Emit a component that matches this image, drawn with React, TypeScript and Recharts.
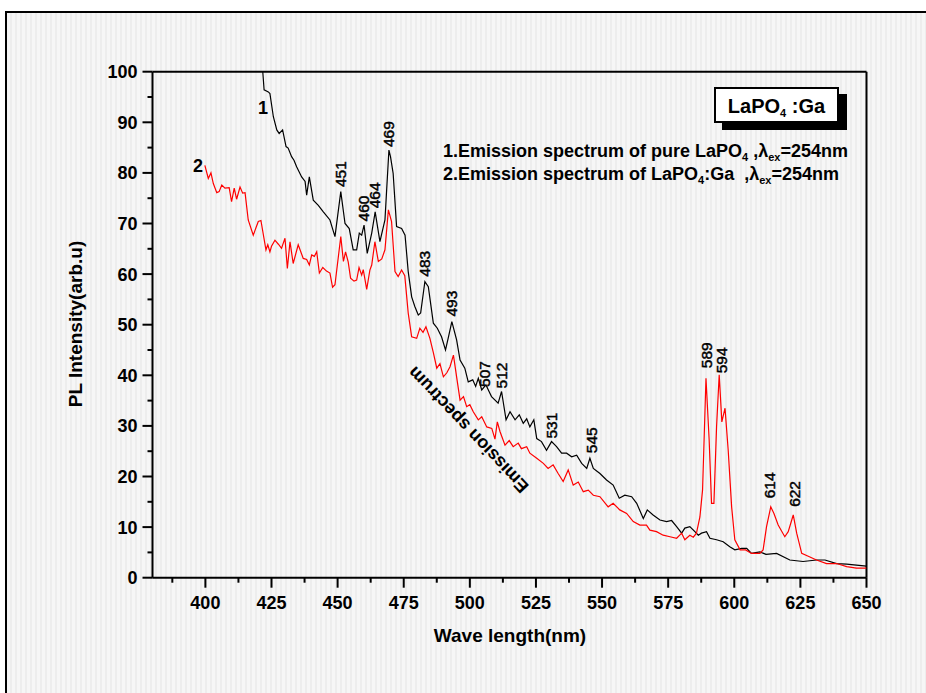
import React from 'react';
import { LineChart, Line, XAxis, YAxis, ReferenceLine, ReferenceDot } from 'recharts';

// [wavelength nm, PL intensity]
const pureSpectrum: [number, number][] = [
  [421.7, 100], [422.2, 96.4], [423.8, 96.0], [424.4, 95.7], [425.7, 91.1], [427.0, 88.5], [427.9, 87.8],
  [429.2, 88.5], [430.5, 85.2], [431.3, 84.9], [432.6, 83.2], [433.5, 82.5], [434.5, 81.2], [436.4, 79.2],
  [437.7, 78.3], [438.3, 75.6], [439.3, 79.2], [440.8, 74.6], [442.7, 73.6], [444.6, 72.3], [447.1, 70.7],
  [449.0, 67.4], [451.2, 76.3], [452.8, 70.0], [454.4, 69.0], [455.9, 64.8], [457.2, 64.8], [458.2, 68.1],
  [459.1, 67.7], [460.0, 69.7], [461.2, 64.1], [462.9, 68.1], [464.2, 72.3], [466.0, 66.4], [467.9, 70.7],
  [469.4, 84.5], [470.0, 83.2], [471.0, 79.9], [472.3, 69.4], [474.2, 69.0], [475.5, 67.7], [476.7, 60.5],
  [478.0, 55.5], [479.2, 53.6], [480.5, 51.9], [481.4, 52.3], [483.0, 58.5], [484.3, 57.5], [486.2, 50.3],
  [487.7, 49.3], [489.3, 47.6], [490.8, 45.0], [491.8, 47.3], [493.2, 50.6], [495.0, 47.0], [496.3, 43.0],
  [498.1, 41.4], [499.4, 38.7], [501.1, 39.1], [502.2, 37.8], [503.2, 39.4], [504.5, 37.1], [506.1, 38.1],
  [507.0, 37.1], [508.2, 35.8], [510.7, 34.5], [512.0, 36.8], [513.7, 31.2], [515.2, 32.8], [517.1, 31.2],
  [518.7, 32.2], [520.2, 30.5], [521.5, 31.4], [522.7, 29.8], [524.2, 31.2], [525.3, 27.5], [527.1, 26.9],
  [529.0, 25.2], [530.9, 26.9], [532.8, 25.9], [534.7, 24.6], [536.6, 24.6], [538.5, 23.9], [540.4, 24.2],
  [542.3, 22.6], [544.2, 21.6], [545.4, 23.6], [546.7, 21.6], [549.2, 20.6], [551.7, 19.3], [554.2, 18.3],
  [556.5, 15.7], [558.6, 16.3], [561.2, 16.0], [563.1, 14.7], [565.6, 11.7], [567.1, 13.4], [569.3, 12.4],
  [571.9, 11.4], [574.4, 11.1], [576.3, 11.3], [578.2, 10.1], [580.1, 8.8], [581.3, 9.8], [583.2, 10.1],
  [585.1, 9.1], [586.4, 8.4], [587.6, 8.8], [589.5, 9.1], [590.8, 7.8], [593.3, 7.5], [595.8, 7.1],
  [598.3, 6.1], [600.2, 5.5], [602.8, 5.8], [604.7, 5.8], [606.5, 4.8], [609.7, 5.1], [612.0, 4.6],
  [616.0, 4.8], [621.0, 3.5], [626.0, 3.2], [631.1, 3.5], [634.3, 3.5], [638.7, 2.8], [642.5, 2.7],
  [646.2, 2.5], [650.0, 2.3],
];

const gaSpectrum: [number, number][] = [
  [399.8, 81.5], [401.1, 78.9], [402.1, 80.0], [403.0, 77.9], [404.3, 76.1], [405.2, 76.3], [406.2, 77.6],
  [407.4, 77.0], [409.0, 77.1], [409.9, 74.3], [410.9, 77.0], [411.8, 74.8], [413.1, 77.2], [414.1, 76.0],
  [415.0, 76.1], [416.2, 70.7], [418.1, 67.7], [420.0, 70.4], [421.0, 70.6], [422.9, 64.8], [423.6, 65.8],
  [424.4, 64.4], [425.0, 65.5], [426.3, 66.7], [427.6, 65.9], [428.8, 65.1], [430.1, 67.1], [431.0, 61.1],
  [432.0, 66.4], [433.2, 62.1], [435.1, 65.8], [437.0, 63.1], [438.3, 62.9], [439.3, 61.8], [440.2, 63.8],
  [441.2, 63.5], [442.1, 64.4], [443.1, 60.2], [444.4, 61.3], [445.8, 60.6], [447.1, 60.2], [448.1, 57.4],
  [449.0, 57.9], [451.2, 67.4], [452.2, 62.5], [453.0, 64.4], [454.0, 62.4], [454.9, 59.2], [456.2, 58.6],
  [457.2, 58.8], [458.1, 61.3], [459.1, 59.8], [459.7, 60.9], [461.0, 57.0], [462.2, 60.8], [462.9, 61.8],
  [464.1, 66.4], [465.4, 62.5], [466.7, 63.0], [467.9, 64.8], [469.2, 72.7], [470.4, 70.4], [471.7, 60.5],
  [472.9, 59.5], [474.2, 60.8], [475.4, 59.7], [476.7, 52.3], [478.0, 47.6], [479.9, 47.3], [481.1, 49.3],
  [482.3, 48.5], [483.4, 49.6], [484.9, 47.3], [486.2, 44.5], [487.5, 41.4], [488.7, 42.3], [490.0, 39.7],
  [491.3, 40.5], [492.5, 41.7], [493.8, 44.0], [495.0, 39.7], [496.3, 35.1], [497.6, 35.8], [498.8, 33.8],
  [500.0, 34.2], [501.3, 32.8], [503.2, 31.2], [504.5, 31.8], [506.4, 29.8], [508.3, 29.5], [509.5, 27.4],
  [510.4, 30.8], [511.4, 28.9], [513.3, 26.2], [514.9, 27.1], [516.4, 25.9], [518.3, 26.6], [519.5, 25.5],
  [521.5, 25.9], [522.7, 24.6], [525.3, 23.6], [527.8, 22.6], [529.6, 21.6], [531.5, 22.3], [533.4, 20.6],
  [535.3, 19.0], [537.2, 21.3], [539.1, 18.3], [541.0, 18.9], [542.9, 17.0], [544.8, 17.3], [546.7, 16.3],
  [549.2, 16.0], [552.3, 14.0], [554.2, 14.7], [556.7, 13.4], [559.3, 12.7], [561.8, 11.1], [564.3, 10.4],
  [566.8, 10.4], [568.1, 9.4], [570.6, 9.1], [573.1, 8.4], [575.7, 8.1], [578.2, 7.8], [580.1, 8.8],
  [581.3, 7.5], [583.2, 8.4], [584.5, 8.0], [585.7, 8.8], [587.0, 12.0], [588.0, 17.3], [589.3, 39.4],
  [590.5, 27.2], [591.4, 14.7], [592.3, 14.7], [593.3, 29.8], [594.3, 40.1], [595.3, 30.8], [596.5, 33.5],
  [597.7, 25.2], [599.0, 14.0], [600.2, 7.5], [602.2, 5.5], [604.3, 5.5], [606.5, 4.8], [609.7, 4.8],
  [610.9, 5.5], [612.2, 10.1], [613.8, 14.0], [615.0, 12.7], [616.6, 10.4], [619.1, 8.1], [620.4, 9.1],
  [622.3, 12.4], [623.6, 8.8], [625.5, 4.8], [628.6, 4.1], [631.1, 3.5], [634.9, 2.8], [638.7, 2.8],
  [642.5, 2.2], [646.2, 1.9], [650.0, 1.9],
];

// peak annotations: text, wavelength, intensity at the label's lower end
const peakLabels: [string, number, number][] = [
  ['451', 451.0, 77.2], ['460', 459.9, 70.4], ['464', 464.1, 73.0], ['469', 469.2, 85.1],
  ['483', 483.0, 59.5], ['493', 492.9, 51.6], ['507', 505.7, 37.7], ['512', 512.0, 37.4],
  ['531', 530.9, 27.5], ['545', 546.0, 24.6], ['589', 589.3, 41.4], ['594', 595.2, 40.4],
  ['614', 613.2, 15.7], ['622', 622.7, 14.0],
];

const curveTags: [string, number, number][] = [['1', 421.8, 93], ['2', 397.2, 81.5]];

const xTicks = [387.5, 400, 412.5, 425, 437.5, 450, 462.5, 475, 487.5, 500, 512.5, 525, 537.5, 550,
  562.5, 575, 587.5, 600, 612.5, 625, 637.5, 650];
const yTicks = [0, 5, 10, 15, 20, 25, 30, 35, 40, 45, 50, 55, 60, 65, 70, 75, 80, 85, 90, 95, 100];

const FONT = '"Liberation Sans", Arial, sans-serif';

const pureData = pureSpectrum.map(([w, v]) => ({ w, v }));
const gaData = gaSpectrum.map(([w, v]) => ({ w, v }));

const XTick = (props: any) => {
  const { x, y, payload } = props;
  const major = payload.value % 25 === 0;
  return (
    <g>
      <line x1={x} y1={y} x2={x} y2={y + (major ? 10 : 5)} stroke="#000" strokeWidth={2} />
      {major && (
        <text x={x} y={y + 31} textAnchor="middle" fontFamily={FONT} fontWeight="bold" fontSize={18} fill="#000">
          {payload.value}
        </text>
      )}
    </g>
  );
};

const YTick = (props: any) => {
  const { x, y, payload } = props;
  const major = payload.value % 10 === 0;
  return (
    <g>
      <line x1={x - (major ? 10 : 5)} y1={y} x2={x} y2={y} stroke="#000" strokeWidth={2} />
      {major && (
        <text x={x - 15} y={y} dy="0.36em" textAnchor="end" fontFamily={FONT} fontWeight="bold" fontSize={18} fill="#000">
          {payload.value}
        </text>
      )}
    </g>
  );
};

const peakShape = (text: string) => (p: any) => (
  <text x={p.cx} y={p.cy} dy="0.36em" transform={`rotate(-90 ${p.cx} ${p.cy})`} fontFamily={FONT}
    fontSize={15.5} fill="#000" stroke="#000" strokeWidth={0.45} textAnchor="start">
    {text}
  </text>
);

const tagShape = (text: string) => (p: any) => (
  <text x={p.cx} y={p.cy} dy="0.36em" textAnchor="middle" fontFamily={FONT} fontWeight="bold" fontSize={18} fill="#000">
    {text}
  </text>
);

const bandShape = (p: any) => (
  <text x={p.cx} y={p.cy} dy="0.36em" textAnchor="middle" transform={`rotate(-133.5 ${p.cx} ${p.cy})`}
    fontFamily={FONT} fontWeight="bold" fontSize={18} fill="#000">
    Emission spectrum
  </text>
);

const subStyle: React.CSSProperties = { fontSize: 11, verticalAlign: '-4px', lineHeight: 0 };

export default function App() {
  return (
    <div style={{ position: 'absolute', left: 0, top: 0, width: 926, height: 693, background: '#fff', overflow: 'hidden', fontFamily: FONT }}>
      <div
        style={{
          position: 'absolute', left: 5, top: 11, width: 940, height: 700,
          borderTop: '2px solid #000', borderLeft: '2px solid #000',
          background: 'repeating-linear-gradient(90deg, #f6f6f6 0px, #f6f6f6 3px, #ededed 3px, #ededed 5px)',
        }}
      />
      <div style={{ position: 'absolute', left: 0, top: 0 }}>
        <LineChart width={926} height={693} margin={{ top: 71.7, right: 59.5, bottom: 75.3, left: 92.5 }}>
          <XAxis
            type="number" dataKey="w" domain={[380, 650]} ticks={xTicks} interval={0} allowDataOverflow
            height={40} tickSize={0} tickMargin={0} tickLine={false} tick={<XTick />}
            axisLine={{ stroke: '#000', strokeWidth: 2 }}
          />
          <YAxis
            type="number" dataKey="v" domain={[0, 100]} ticks={yTicks} interval={0} allowDataOverflow
            width={60} tickSize={0} tickMargin={0} tickLine={false} tick={<YTick />}
            axisLine={{ stroke: '#000', strokeWidth: 2 }}
          />
          <ReferenceLine y={100} stroke="#000" strokeWidth={2} />
          <ReferenceLine x={650} stroke="#000" strokeWidth={2} />
          <Line data={pureData} dataKey="v" type="linear" stroke="#000" strokeWidth={1.2} dot={false} isAnimationActive={false} />
          <Line data={gaData} dataKey="v" type="linear" stroke="#ff0000" strokeWidth={1.2} dot={false} isAnimationActive={false} />
          {peakLabels.map(([t, w, v]) => (
            <ReferenceDot key={t} x={w} y={v} r={0} ifOverflow="visible" shape={peakShape(t)} />
          ))}
          {curveTags.map(([t, w, v]) => (
            <ReferenceDot key={'c' + t} x={w} y={v} r={0} ifOverflow="visible" shape={tagShape(t)} />
          ))}
          <ReferenceDot x={499.3} y={29.2} r={0} ifOverflow="visible" shape={bandShape} />
        </LineChart>
      </div>
      <div
        style={{
          position: 'absolute', left: 76, top: 324, transform: 'translate(-50%, -50%) rotate(-90deg)',
          fontSize: 19, fontWeight: 'bold', whiteSpace: 'nowrap',
        }}
      >
        PL Intensity(arb.u)
      </div>
      <div
        style={{
          position: 'absolute', left: 510, top: 636, transform: 'translate(-50%, -50%)',
          fontSize: 19, fontWeight: 'bold', whiteSpace: 'nowrap',
        }}
      >
        Wave length(nm)
      </div>
      <div
        style={{
          position: 'absolute', left: 714, top: 87, width: 125, height: 36, boxSizing: 'border-box',
          border: '2px solid #000', background: '#fff', boxShadow: '8px 7px 0 #000',
          textAlign: 'center', fontSize: 20, fontWeight: 'bold', lineHeight: '32px', paddingTop: 1,
        }}
      >
        LaPO<sub style={subStyle}>4</sub> :Ga
      </div>
      <div
        style={{
          position: 'absolute', left: 443, top: 139.6, fontSize: 18, fontWeight: 'bold',
          lineHeight: '23.4px', whiteSpace: 'pre',
        }}
      >
        <div>1.Emission spectrum of pure LaPO<sub style={subStyle}>4</sub> ,λ<sub style={subStyle}>ex</sub>=254nm</div>
        <div>2.Emission spectrum of LaPO<sub style={subStyle}>4</sub>:Ga  ,λ<sub style={subStyle}>ex</sub>=254nm</div>
      </div>
    </div>
  );
}
